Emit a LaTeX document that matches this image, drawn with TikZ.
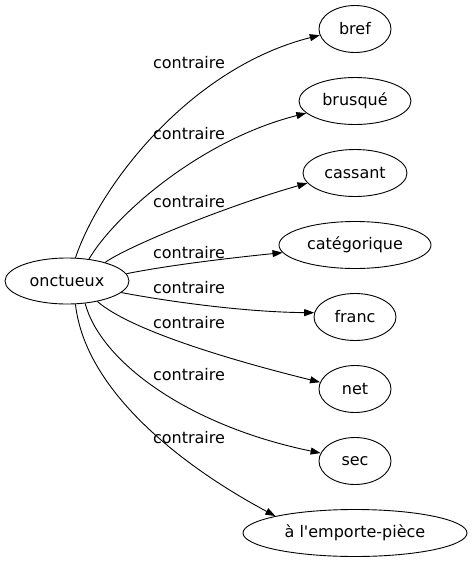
\documentclass[tikz,border=0pt]{standalone}
\usepackage{fontspec}
\setmainfont{DejaVu Sans}
\usetikzlibrary{shapes.geometric,arrows.meta}
\newcommand{\straightq}{\XeTeXglyph\XeTeXcharglyph"0027\relax}
\begin{document}
\begin{tikzpicture}[x=1pt,y=-1pt,
  every node/.style={font=\fontsize{16}{19}\selectfont},
  wnode/.style={draw,ellipse,inner sep=0pt,line width=0.9pt,minimum height=47pt},
  edge/.style={draw,line width=0.9pt,-{Triangle[length=10pt,width=7pt]}},
  lab/.style={inner sep=0pt}]
\useasboundingbox (0,0) rectangle (473,563);
\node[wnode,minimum width=124pt,minimum height=46pt] (o) at (67,281) {onctueux};
\node[wnode,minimum width=72pt] (n1) at (355,29) {bref};
\node[wnode,minimum width=112pt] (n2) at (355,101) {brusqué};
\node[wnode,minimum width=104pt] (n3) at (355,173) {cassant};
\node[wnode,minimum width=152pt] (n4) at (355,245) {catégorique};
\node[wnode,minimum width=82pt] (n5) at (355,317) {franc};
\node[wnode,minimum width=72pt] (n6) at (355,389) {net};
\node[wnode,minimum width=72pt] (n7) at (355,461) {sec};
\node[wnode,minimum width=224pt] (n8) at (355,533) {à l\straightq emporte-pièce};
\draw[edge] (o.70) .. controls (100,185) and (190,68) .. (n1.190);
\draw[edge] (o.45) .. controls (115,215) and (200,140) .. (n2.194);
\draw[edge] (o.26) .. controls (130,245) and (230,205) .. (n3.192);
\draw[edge] (o.7) .. controls (170,265) and (230,258) .. (n4.186);
\draw[edge] (o.-12) .. controls (160,300) and (240,312) .. (n5.174);
\draw[edge] (o.-34) .. controls (130,330) and (230,360) .. (n6.169);
\draw[edge] (o.-51) .. controls (100,360) and (185,425) .. (n7.167);
\draw[edge] (o.-70) .. controls (85,390) and (180,465) .. (n8.168);
\node[lab] (l1) at (189,63) {contraire};
\node[lab] (l2) at (189,134) {contraire};
\node[lab] (l3) at (189,202) {contraire};
\node[lab] (l4) at (189,253) {contraire};
\node[lab] (l5) at (189,288) {contraire};
\node[lab] (l6) at (189,323) {contraire};
\node[lab] (l7) at (189,375) {contraire};
\node[lab] (l8) at (189,438) {contraire};
\end{tikzpicture}
\end{document}
